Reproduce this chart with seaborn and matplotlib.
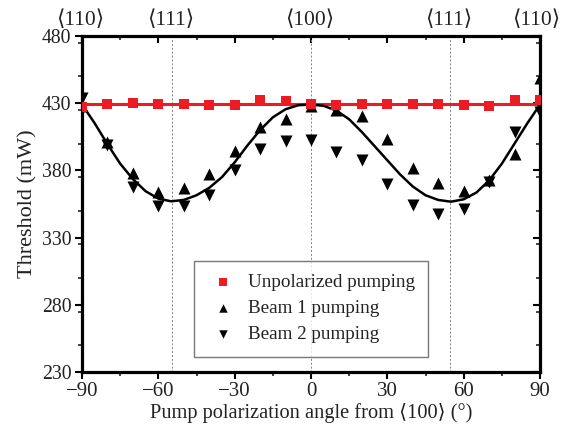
import numpy as np
import pandas as pd
import matplotlib
matplotlib.use("Agg")
import matplotlib.pyplot as plt
import seaborn as sns
from matplotlib.ticker import MultipleLocator

# ---- data ----
angles = [-90, -80, -70, -60, -50, -40, -30, -20, -10, 0,
          10, 20, 30, 40, 50, 60, 70, 80, 90]
unpolarized = [427.5, 429.6, 430, 429.6, 429.6, 429, 428.4, 432, 431.4, 429.6,
               428.7, 429.6, 429.6, 429.6, 429.6, 428.7, 428, 432.4, 432]
beam1 = [428, 401, 377.8, 364.2, 366.7, 377, 394.7, 412.6, 418, 428,
         425, 420.7, 403.4, 382, 370.4, 365, 372.5, 392, 449]
beam2 = [433.6, 399, 368, 353.5, 353.5, 361.7, 380.3, 395.7, 401.9, 402.6,
         394, 388, 369.8, 354.5, 347.6, 351, 371.5, 408.8, 423.2]
unpol_level = 429.5

fit_angles = [-90, -85, -80, -75, -70, -65, -60, -55, -50, -45, -40, -35, -30,
              -25, -20, -15, -10, -5, 0, 5, 10, 15, 20, 25, 30, 35, 40, 45,
              50, 55, 60, 65, 70, 75, 80, 85, 90]
fit_values = [429, 415, 399.5, 385, 373.5, 364.5, 359, 357, 358, 361.5, 367,
              375, 386, 398.5, 410, 419.5, 425.5, 428.5, 429, 428, 424.5,
              418, 408.5, 398, 387.5, 377, 368, 361.5, 358, 356.7, 358.5,
              363.5, 372.5, 385, 400, 415, 429]

top_positions = [-90, -54.7, 0, 54.7, 90]
top_labels = ["\u27e8110\u27e9", "\u27e8111\u27e9", "\u27e8100\u27e9",
              "\u27e8111\u27e9", "\u27e8110\u27e9"]
x_ticks = [-90, -60, -30, 0, 30, 60, 90]
y_ticks = [230, 280, 330, 380, 430, 480]

# ---- style ----
sns.set_theme(style="ticks")
fam = ["Liberation Serif", "DejaVu Serif", "DejaVu Sans"]
plt.rcParams["font.family"] = fam
plt.rcParams["mathtext.fontset"] = "stix"

fig = plt.figure(figsize=(5.61, 4.33), dpi=100)
ax = fig.add_axes([0.1462, 0.1409, 0.8164, 0.776])

red = "#ED1C24"
txt = "#222222"

# dotted guide lines
for xv in [-54.7, 0, 54.7]:
    ax.axvline(xv, color="#808080", lw=0.7, ls=(0, (2, 2)), zorder=1)

df_unpol_line = pd.DataFrame({"x": [-90, 90], "y": [unpol_level, unpol_level]})
sns.lineplot(data=df_unpol_line, x="x", y="y", ax=ax, color=red, lw=2.2, zorder=3)

df_fit = pd.DataFrame({"x": fit_angles, "y": fit_values})
sns.lineplot(data=df_fit, x="x", y="y", ax=ax, color="black", lw=1.8, zorder=3)

df = pd.DataFrame({"x": angles, "unpol": unpolarized, "b1": beam1, "b2": beam2})
sns.scatterplot(data=df, x="x", y="b1", ax=ax, marker="^", color="black",
                s=75, linewidth=0, zorder=4, label="Beam 1 pumping", legend=False)
sns.scatterplot(data=df, x="x", y="b2", ax=ax, marker="v", color="black",
                s=75, linewidth=0, zorder=4, label="Beam 2 pumping", legend=False)
sns.scatterplot(data=df, x="x", y="unpol", ax=ax, marker="s", color=red,
                s=60, linewidth=0, zorder=5, label="Unpolarized pumping", legend=False)

ax.set_xlim(-90, 90)
ax.set_ylim(230, 480)
ax.set_xticks(x_ticks)
ax.set_xticklabels([("\u2212" + str(abs(v))) if v < 0 else str(v) for v in x_ticks])
ax.set_yticks(y_ticks)
ax.xaxis.set_minor_locator(MultipleLocator(15))
ax.yaxis.set_minor_locator(MultipleLocator(25))

ax.tick_params(axis="both", which="major", width=1.5, length=5,
               colors="black", labelcolor=txt, pad=2.5)
ax.tick_params(axis="x", which="major", labelsize=15)
ax.tick_params(axis="y", which="major", labelsize=14.2)
ax.tick_params(axis="both", which="minor", width=1.2, length=3)
ax.tick_params(axis="x", which="both", top=True, direction="out")
ax.tick_params(axis="y", which="both", right=True, direction="out")
# top and right ticks inward
for t in ax.xaxis.get_major_ticks() + ax.xaxis.get_minor_ticks():
    t.tick2line.set_marker(matplotlib.lines.TICKDOWN)
for t in ax.yaxis.get_major_ticks() + ax.yaxis.get_minor_ticks():
    t.tick2line.set_marker(matplotlib.lines.TICKLEFT)

for side in ["left", "right", "top", "bottom"]:
    ax.spines[side].set_visible(True)
    ax.spines[side].set_color("black")
    ax.spines[side].set_linewidth(2.3)

ax.set_xlabel("Pump polarization angle from \u27e8100\u27e9 (\u00b0)", fontsize=14.7,
              color=txt, labelpad=1)
ax.set_ylabel("Threshold (mW)", fontsize=16, color=txt, labelpad=3)

top_offsets = [-1, -1, -1, -1, -2.5]
for xp, lab, dx in zip(top_positions, top_labels, top_offsets):
    ax.annotate(lab, xy=(xp, 1.0), xycoords=ax.get_xaxis_transform(),
                xytext=(dx, 4.5), textcoords="offset points", ha="center",
                va="bottom", fontsize=15.5, color=txt, family=fam,
                annotation_clip=False)

# legend in fixed order
h, l = ax.get_legend_handles_labels()
order = ["Unpolarized pumping", "Beam 1 pumping", "Beam 2 pumping"]
handles = [h[l.index(o)] for o in order]
leg = ax.legend(handles, order, loc="lower center", bbox_to_anchor=(0.5, 0.045),
                frameon=True, fancybox=False, fontsize=13.8, markerscale=0.7,
                handletextpad=0.5, borderpad=0.7, labelspacing=0.45,
                borderaxespad=0.0, handlelength=1.6)
leg.get_frame().set_edgecolor("#555555")
leg.get_frame().set_linewidth(1.0)
for t in leg.get_texts():
    t.set_color(txt)

fig.savefig("out.png", dpi=100)
